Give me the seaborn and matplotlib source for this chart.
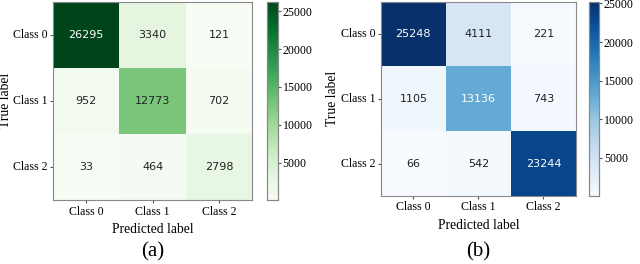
import seaborn as sns
import numpy as np
import matplotlib.pyplot as plt

# confusion matrix values
class_names = ['Class 0', 'Class 1', 'Class 2']
cm_a = np.array([[26295, 3340, 121],
                 [952, 12773, 702],
                 [33, 464, 2798]])
cm_b = np.array([[25248, 4111, 221],
                 [1105, 13136, 743],
                 [66, 542, 23244]])
cbar_ticks = [5000, 10000, 15000, 20000, 25000]

serif = 'Liberation Serif'
plt.rcParams['font.family'] = serif

fig = plt.figure(figsize=(6.4, 2.64), dpi=100)


def draw_cm(cm, cmap, ax_rect, cax_rect, tag):
    ax = fig.add_axes(ax_rect)
    cax = fig.add_axes(cax_rect)
    sns.heatmap(cm, ax=ax, cbar_ax=cax, cmap=cmap, annot=True, fmt='d',
                vmin=cm.min(), vmax=cm.max(),
                annot_kws={'family': 'DejaVu Sans', 'size': 8},
                xticklabels=class_names, yticklabels=class_names,
                cbar_kws={'ticks': cbar_ticks})
    # sklearn style text colour: white above the midpoint
    thresh = (cm.max() + cm.min()) / 2
    for txt, v in zip(ax.texts, cm.flatten()):
        txt.set_color('white' if v > thresh else '#222222')
    for s in ax.spines.values():
        s.set_visible(True)
        s.set_color('#888888')
        s.set_linewidth(0.8)
    ax.tick_params(axis='both', labelsize=8.6, length=2.5, pad=1.5, color='#555555')
    ax.set_yticklabels(class_names, rotation=0, family=serif)
    ax.set_xticklabels(class_names, rotation=0, family=serif)
    ax.set_xlabel('Predicted label', fontsize=9.8, family=serif, labelpad=4)
    ax.set_ylabel('True label', fontsize=9.8, family=serif, labelpad=1)
    cax.tick_params(labelsize=8.6, length=2, pad=1.5, color='#555555')
    for lab in cax.get_yticklabels():
        lab.set_family(serif)
    cax.set_frame_on(True)
    for s in cax.spines.values():
        s.set_visible(True)
        s.set_color('#888888')
        s.set_linewidth(0.8)
    cx = ax_rect[0] + ax_rect[2] / 2
    fig.text(cx, 0.045, tag, ha='center', va='center', fontsize=15, family=serif)
    return ax


draw_cm(cm_a, 'Greens', [0.083, 0.242, 0.311, 0.752], [0.417, 0.242, 0.0172, 0.752], '(a)')
draw_cm(cm_b, 'Blues', [0.595, 0.258, 0.305, 0.736], [0.920, 0.258, 0.016, 0.736], '(b)')

fig.savefig('out.png', dpi=100)
